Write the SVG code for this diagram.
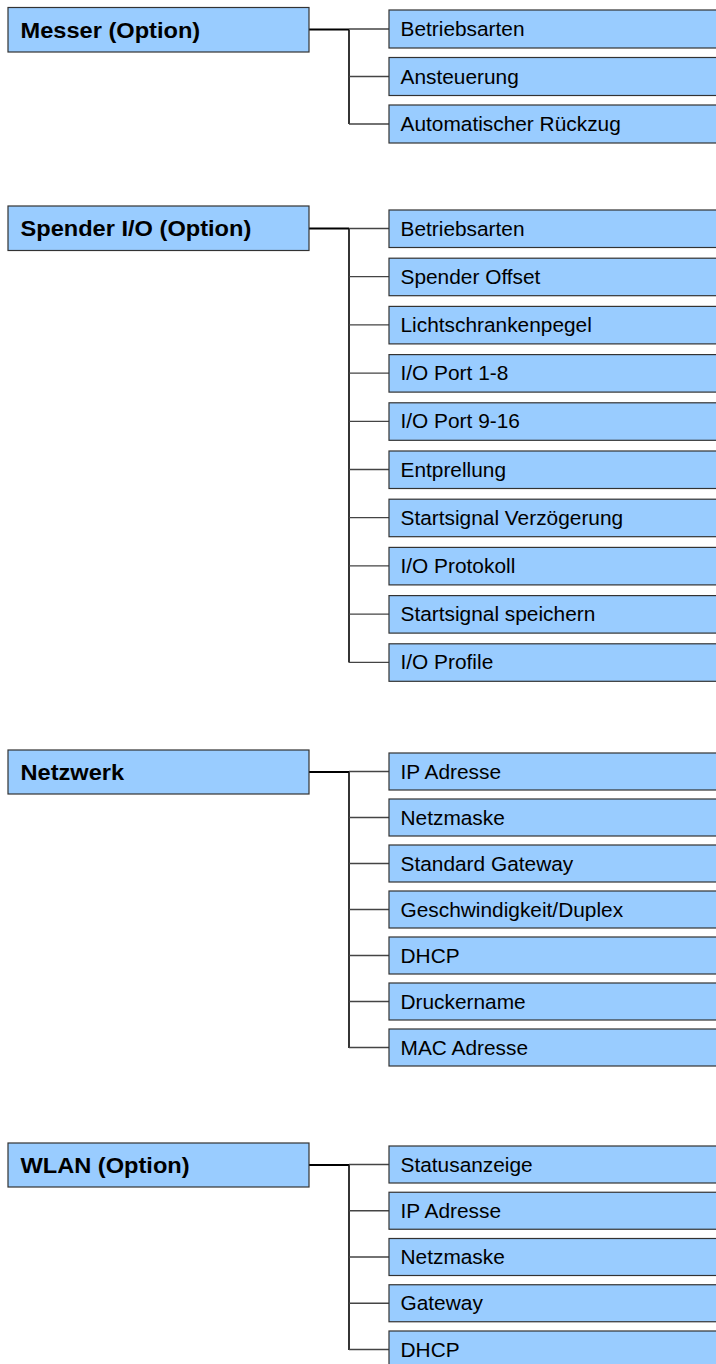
<svg xmlns="http://www.w3.org/2000/svg" width="716" height="1364" viewBox="0 0 716 1364">
<style>
.p{fill:#99ccff;stroke:#333;stroke-width:1.2}
.c{fill:#99ccff;stroke:#333;stroke-width:1.2}
.pt{font-family:"Liberation Sans",Arial,sans-serif;font-weight:bold;font-size:22.5px;fill:#000}
.ct{font-family:"Liberation Sans",Arial,sans-serif;font-size:19.5px;fill:#000}
.m{stroke:#000;stroke-width:2;fill:none}
.v{stroke:#111;stroke-width:1.7;fill:none}
.b{stroke:#444;stroke-width:1.3;fill:none}
</style>
<rect width="716" height="1364" fill="#fff"/>
<g id="connectors">
<path class="m" d="M309 29.5H349"/>
<path class="v" d="M349 29.5V124"/>
<path class="b" d="M349 29H389M349 76.5H389M349 124H389"/>
<path class="m" d="M309 228.5H349"/>
<path class="v" d="M349 228.5V662.5"/>
<path class="b" d="M349 228.5H389M349 276.7H389M349 324.9H389M349 373.1H389M349 421.3H389M349 469.5H389M349 517.7H389M349 565.9H389M349 614.1H389M349 662.3H389"/>
<path class="m" d="M309 772H349"/>
<path class="v" d="M349 772V1048"/>
<path class="b" d="M349 771.5H389M349 817.5H389M349 863.5H389M349 909.5H389M349 955.5H389M349 1001.5H389M349 1047.5H389"/>
<path class="m" d="M309 1165H349"/>
<path class="v" d="M349 1165V1350"/>
<path class="b" d="M349 1164.5H389M349 1210.75H389M349 1257H389M349 1303.25H389M349 1349.5H389"/>
</g>
<g id="messer"><rect class="p" x="8" y="7.5" width="301" height="44.5"/><text class="pt" transform="translate(20.5,37.5) scale(1.05,1)">Messer (Option)</text></g>
<g id="messer-1"><rect class="c" x="389" y="10" width="340" height="38"/><text class="ct" transform="translate(400.5,36) scale(1.07,1)">Betriebsarten</text></g>
<g id="messer-2"><rect class="c" x="389" y="57.5" width="340" height="38"/><text class="ct" transform="translate(400.5,83.5) scale(1.07,1)">Ansteuerung</text></g>
<g id="messer-3"><rect class="c" x="389" y="105" width="340" height="38"/><text class="ct" transform="translate(400.5,131) scale(1.07,1)">Automatischer Rückzug</text></g>

<g id="spender"><rect class="p" x="8" y="206" width="301" height="44.5"/><text class="pt" transform="translate(20.5,236) scale(1.05,1)">Spender I/O (Option)</text></g>
<g id="spender-1"><rect class="c" x="389" y="210" width="340" height="37.5"/><text class="ct" transform="translate(400.5,235.5) scale(1.07,1)">Betriebsarten</text></g>
<g id="spender-2"><rect class="c" x="389" y="258.2" width="340" height="37.5"/><text class="ct" transform="translate(400.5,283.7) scale(1.07,1)">Spender Offset</text></g>
<g id="spender-3"><rect class="c" x="389" y="306.4" width="340" height="37.5"/><text class="ct" transform="translate(400.5,331.9) scale(1.07,1)">Lichtschrankenpegel</text></g>
<g id="spender-4"><rect class="c" x="389" y="354.6" width="340" height="37.5"/><text class="ct" transform="translate(400.5,380.1) scale(1.07,1)">I/O Port 1-8</text></g>
<g id="spender-5"><rect class="c" x="389" y="402.8" width="340" height="37.5"/><text class="ct" transform="translate(400.5,428.3) scale(1.07,1)">I/O Port 9-16</text></g>
<g id="spender-6"><rect class="c" x="389" y="451" width="340" height="37.5"/><text class="ct" transform="translate(400.5,476.5) scale(1.07,1)">Entprellung</text></g>
<g id="spender-7"><rect class="c" x="389" y="499.2" width="340" height="37.5"/><text class="ct" transform="translate(400.5,524.7) scale(1.07,1)">Startsignal Verzögerung</text></g>
<g id="spender-8"><rect class="c" x="389" y="547.4" width="340" height="37.5"/><text class="ct" transform="translate(400.5,572.9) scale(1.07,1)">I/O Protokoll</text></g>
<g id="spender-9"><rect class="c" x="389" y="595.6" width="340" height="37.5"/><text class="ct" transform="translate(400.5,621.1) scale(1.07,1)">Startsignal speichern</text></g>
<g id="spender-10"><rect class="c" x="389" y="643.8" width="340" height="37.5"/><text class="ct" transform="translate(400.5,669.3) scale(1.07,1)">I/O Profile</text></g>

<g id="netzwerk"><rect class="p" x="8" y="750" width="301" height="44"/><text class="pt" transform="translate(20.5,780) scale(1.05,1)">Netzwerk</text></g>
<g id="netzwerk-1"><rect class="c" x="389" y="753" width="340" height="37"/><text class="ct" transform="translate(400.5,778.5) scale(1.07,1)">IP Adresse</text></g>
<g id="netzwerk-2"><rect class="c" x="389" y="799" width="340" height="37"/><text class="ct" transform="translate(400.5,824.5) scale(1.07,1)">Netzmaske</text></g>
<g id="netzwerk-3"><rect class="c" x="389" y="845" width="340" height="37"/><text class="ct" transform="translate(400.5,870.5) scale(1.07,1)">Standard Gateway</text></g>
<g id="netzwerk-4"><rect class="c" x="389" y="891" width="340" height="37"/><text class="ct" transform="translate(400.5,916.5) scale(1.07,1)">Geschwindigkeit/Duplex</text></g>
<g id="netzwerk-5"><rect class="c" x="389" y="937" width="340" height="37"/><text class="ct" transform="translate(400.5,962.5) scale(1.07,1)">DHCP</text></g>
<g id="netzwerk-6"><rect class="c" x="389" y="983" width="340" height="37"/><text class="ct" transform="translate(400.5,1008.5) scale(1.07,1)">Druckername</text></g>
<g id="netzwerk-7"><rect class="c" x="389" y="1029" width="340" height="37"/><text class="ct" transform="translate(400.5,1054.5) scale(1.07,1)">MAC Adresse</text></g>

<g id="wlan"><rect class="p" x="8" y="1143" width="301" height="44"/><text class="pt" transform="translate(20.5,1173) scale(1.05,1)">WLAN (Option)</text></g>
<g id="wlan-1"><rect class="c" x="389" y="1146" width="340" height="37"/><text class="ct" transform="translate(400.5,1171.5) scale(1.07,1)">Statusanzeige</text></g>
<g id="wlan-2"><rect class="c" x="389" y="1192.25" width="340" height="37"/><text class="ct" transform="translate(400.5,1217.75) scale(1.07,1)">IP Adresse</text></g>
<g id="wlan-3"><rect class="c" x="389" y="1238.5" width="340" height="37"/><text class="ct" transform="translate(400.5,1264) scale(1.07,1)">Netzmaske</text></g>
<g id="wlan-4"><rect class="c" x="389" y="1284.75" width="340" height="37"/><text class="ct" transform="translate(400.5,1310.25) scale(1.07,1)">Gateway</text></g>
<g id="wlan-5"><rect class="c" x="389" y="1331" width="340" height="37"/><text class="ct" transform="translate(400.5,1356.5) scale(1.07,1)">DHCP</text></g>
</svg>
